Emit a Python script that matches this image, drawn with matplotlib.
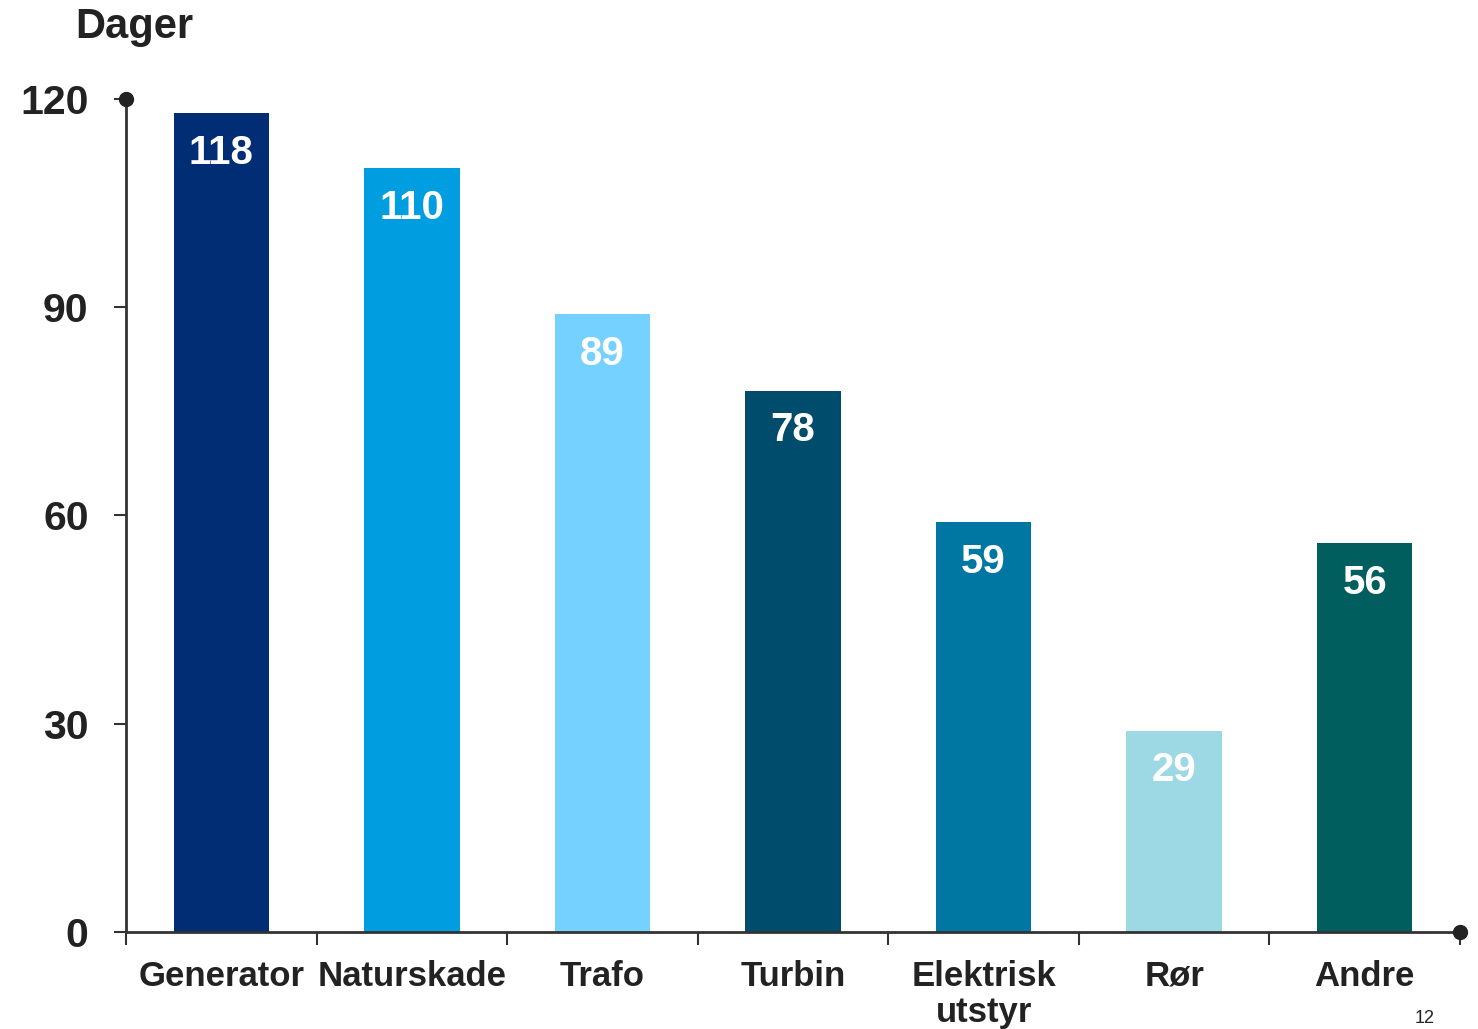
import matplotlib
matplotlib.use("Agg")
import matplotlib.pyplot as plt

# ── data ──────────────────────────────────────────────────────────────────────
categories = ["Generator", "Naturskade", "Trafo", "Turbin", "Elektrisk\nutstyr", "Rør", "Andre"]
values     = [118, 110, 89, 78, 59, 29, 56]
colors     = ["#002D74", "#009EE0", "#75D1FF", "#004C6C", "#0077A2", "#9DD9E5", "#005F5E"]
y_ticks    = [0, 30, 60, 90, 120]

plt.rcParams["font.family"] = ["Liberation Sans", "DejaVu Sans"]
plt.rcParams["font.weight"] = "bold"
TXT = "#222222"
AX = "#333333"

fig = plt.figure(figsize=(14.78, 10.29), dpi=100)
ax = fig.add_axes([0.0853, 0.0943, 0.9025, 0.8095])

x = list(range(len(categories)))
ax.bar(x, values, width=0.5, color=colors, zorder=2)

for xi, v in zip(x, values):
    ax.annotate(str(v), (xi, v), xytext=(0, -15), textcoords="offset points",
                ha="center", va="top", color="white", fontsize=29, fontweight="bold")

ax.set_xlim(-0.5, len(categories) - 0.5)
ax.set_ylim(0, 120)

for s in ["top", "right"]:
    ax.spines[s].set_visible(False)
for s in ["left", "bottom"]:
    ax.spines[s].set_color(AX)
    ax.spines[s].set_linewidth(2)

ax.set_yticks(y_ticks)
ax.set_yticklabels([str(t) for t in y_ticks], fontsize=29.5, fontweight="bold", color=TXT)
ax.tick_params(axis="y", length=9, width=1.5, color=AX, pad=18)

# x ticks at category boundaries, labels at centres
ax.set_xticks([i - 0.5 for i in range(len(categories) + 1)])
ax.set_xticklabels([])
ax.set_xticks(x, minor=True)
ax.set_xticklabels(categories, minor=True, fontsize=25, fontweight="bold",
                   color=TXT, va="top", linespacing=1.12)
ax.tick_params(axis="x", which="major", length=9, width=1.5, color=AX, direction="out")
ax.tick_params(axis="x", which="minor", length=0, pad=20)

# end dots of the axes
ax.plot([-0.5], [120], "o", color=TXT, markersize=10, clip_on=False, zorder=5)
ax.plot([len(categories) - 0.5], [0], "o", color=TXT, markersize=10, clip_on=False, zorder=5)

fig.text(75 / 1478, 1 - 27 / 1029, "Dager", fontsize=30, fontweight="bold",
         color=TXT, ha="left", va="center")
fig.text(1425 / 1478, 0.002, "12", fontsize=13, fontweight="normal",
         color=TXT, ha="center", va="bottom")

fig.savefig("out.png", dpi=100)
